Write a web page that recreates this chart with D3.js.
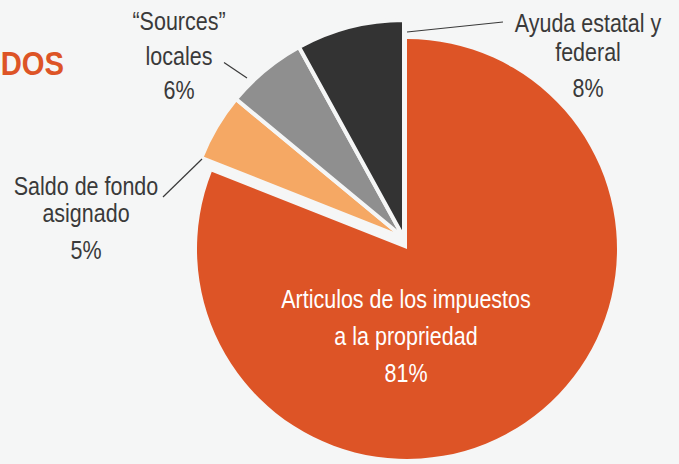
<!DOCTYPE html>
<html>
<head>
<meta charset="utf-8">
<script src="https://cdn.jsdelivr.net/npm/d3@7"></script>
<style>
  body { margin: 0; overflow: hidden; }
</style>
</head>
<body>
<script>
// valores
const categories = ["Articulos de los impuestos a la propriedad", "Saldo de fondo asignado", "“Sources” locales", "Ayuda estatal y federal"]
const labelLines = [
    ["Articulos de los impuestos", "a la propriedad"],
    ["Saldo de fondo", "asignado"],
    ["“Sources”", "locales"],
    ["Ayuda estatal y", "federal"],
]
const values = [81, 5, 6, 8]
const title = "DOS"

function setHTML(b) {
    document.body.style.backgroundColor = b
}

function setCanvas(w, h) {
    return d3.select("body")
    .append("svg")
        .attr("width", w)
        .attr("height", h)
        .style("display", "block")
}

function drawPie(svg, a) {
    const slices = d3.pie()
        .sort(null)
        .value(d => d)
        (values)

    svg.append("g")
    .selectAll("path")
        .data(slices)
        .join("path")
            .attr("transform", (d, i) => `translate(${a.center[0] + a.shift[i][0]},${a.center[1] + a.shift[i][1]})`)
            .attr("d", (d, i) => d3.arc().innerRadius(0).outerRadius(a.r[i])(d))
            .attr("fill", (d, i) => a.colors[i])
            .attr("stroke", a.bg)
            .attr("stroke-width", (d, i) => a.stroke[i])
            .attr("stroke-linejoin", "miter")
}

function drawLabels(svg, a) {
    const g = svg.append("g")
        .attr("font-family", a.font)
        .attr("font-size", a.fontSize)
        .attr("text-anchor", "middle")

    // lineas guía
    g.append("g")
        .attr("stroke", a.text)
        .attr("stroke-width", 1.2)
    .selectAll("line")
        .data(a.leaders.filter(d => d))
        .join("line")
            .attr("x1", d => d[0][0])
            .attr("y1", d => d[0][1])
            .attr("x2", d => d[1][0])
            .attr("y2", d => d[1][1])

    // fuente estrecha: Liberation Sans comprimida en x
    const t = g.selectAll("text.lab")
        .data(labelLines.map((l, i) => ({lines: l, pct: values[i] + "%", pos: a.labels[i], i})))
        .join("text")
            .attr("class", "lab")
            .attr("transform", d => `translate(${d.pos.x},0) scale(${a.narrow},1)`)
            .attr("fill", d => d.i === 0 ? "#ffffff" : a.text)

    t.selectAll("tspan")
        .data(d => d.lines.map((s, k) => ({s, y: d.pos.y + k * d.pos.dy}))
            .concat([{s: d.pct, y: d.pos.y + (d.lines.length - 1) * d.pos.dy + d.pos.gap}]))
        .join("tspan")
            .attr("x", 0)
            .attr("y", d => d.y)
            .text(d => d.s)

    svg.append("text")
        .attr("transform", `translate(${a.titlePos[0]},${a.titlePos[1]}) scale(${a.narrow},1)`)
        .attr("text-anchor", "end")
        .attr("font-family", a.font)
        .attr("font-weight", "bold")
        .attr("font-size", 34)
        .attr("fill", a.colors[0])
        .text(title)
}

function draw() {
    const w = 679
    const h = 464
    const c = {
        orange: "#dd5426",
        light:  "#f5a864",
        grey:   "#8f8f8f",
        dark:   "#333333",
        bg:     "#f5f6f6",
        text:   "#3a3a3a",
    }
    const a = {
        bg:       c.bg,
        text:     c.text,
        colors:   [c.orange, c.light, c.grey, c.dark],
        center:   [404, 238],
        r:        [210, 218, 218, 218],
        shift:    [[3, 11], [0, 0], [0, 0], [0, 0]],
        stroke:   [0, 4, 4, 4],
        font:     "'Liberation Sans', Arial, sans-serif",
        fontSize: 25,
        narrow:   0.86,
        titlePos: [64, 75],
        labels: [
            {x: 406, y: 308, dy: 37, gap: 37},
            {x: 86,  y: 195, dy: 27, gap: 37},
            {x: 179, y: 30,  dy: 35, gap: 34},
            {x: 588, y: 32,  dy: 29, gap: 36},
        ],
        leaders: [
            null,
            [[163, 197], [202, 159]],
            [[224, 62.5], [247, 78]],
            [[407, 32], [503, 22]],
        ],
    }
    setHTML(c.bg)
    const svg = setCanvas(w, h)
    drawPie(svg, a)
    drawLabels(svg, a)
}

draw()
</script>
</body>
</html>
